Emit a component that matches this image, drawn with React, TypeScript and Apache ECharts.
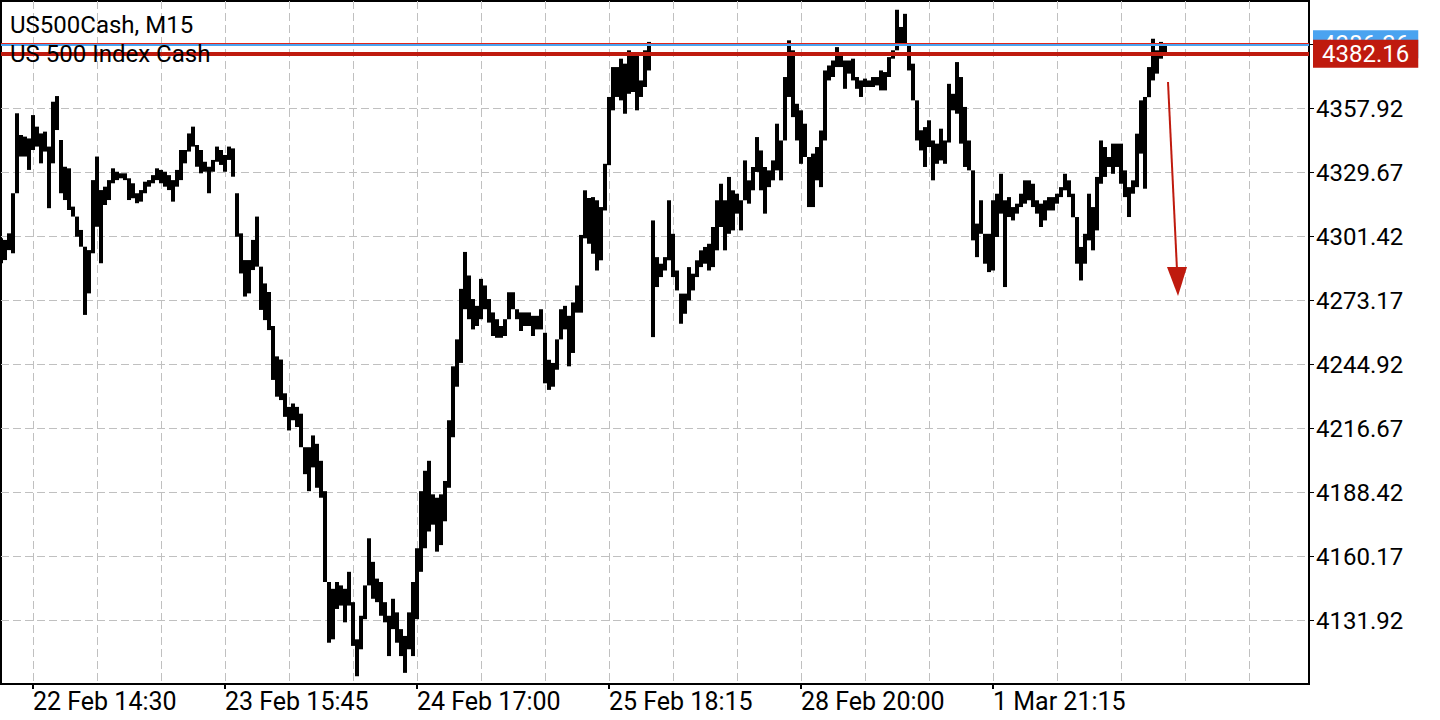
import { useEffect, useRef } from 'react';
import * as echarts from 'echarts';

// 30-minute columns (high / low), index 0 sits at the left edge
const highs = [
  4300.7, 4300.0, 4302.9, 4320.6, 4355.9, 4346.3, 4345.6, 4344.8, 4355.1, 4350.0,
  4347.0, 4347.8, 4341.2, 4361.0, 4363.5, 4344.1, 4332.3, 4331.6, 4314.7, 4310.3,
  4304.4, 4297.0, 4295.5, 4326.4, 4336.8, 4322.0, 4323.5, 4326.4, 4331.6, 4330.1,
  4329.4, 4329.4, 4327.2, 4325.0, 4320.6, 4322.0, 4325.7, 4326.4, 4328.6, 4331.6,
  4330.9, 4330.1, 4328.6, 4326.4, 4330.9, 4339.7, 4339.7, 4347.0, 4350.0, 4341.9,
  4339.7, 4334.5, 4332.3, 4335.3, 4341.2, 4339.7, 4337.5, 4341.2, 4340.4, 4320.6,
  4302.9, 4291.1, 4291.1, 4300.0, 4310.3, 4288.2, 4280.8, 4277.0, 4262.0, 4248.6,
  4247.2, 4232.3, 4226.3, 4227.8, 4226.3, 4223.3, 4208.5, 4208.5, 4213.7, 4210.0,
  4202.5, 4189.1, 4149.0, 4146.0, 4149.0, 4147.5, 4146.0, 4153.5, 4140.1, 4123.7,
  4134.1, 4147.5, 4168.3, 4157.9, 4150.5, 4149.0, 4140.1, 4134.1, 4141.6, 4135.6,
  4128.2, 4125.2, 4135.6, 4149.0, 4163.9, 4189.1, 4198.1, 4202.5, 4187.7, 4186.2,
  4187.7, 4193.6, 4220.4, 4244.2, 4256.1, 4278.4, 4294.7, 4284.3, 4273.9, 4270.9,
  4282.8, 4279.9, 4273.9, 4268.0, 4265.0, 4262.0, 4265.0, 4276.9, 4276.9, 4269.4,
  4268.0, 4268.0, 4268.0, 4266.5, 4266.5, 4269.4, 4259.0, 4247.1, 4245.7, 4256.1,
  4269.4, 4270.9, 4266.5, 4272.4, 4279.9, 4302.2, 4321.9, 4318.5, 4318.9, 4317.5,
  4314.5, 4333.6, 4363.1, 4376.3, 4376.3, 4380.0, 4377.8, 4383.7, 4382.2, 4382.2,
  4370.4, 4383.7, 4387.4, 4308.6, 4292.4, 4289.5, 4292.4, 4317.5, 4302.7, 4286.5,
  4276.3, 4276.3, 4288.0, 4285.1, 4291.0, 4295.4, 4296.9, 4298.3, 4305.7, 4317.5,
  4324.8, 4317.5, 4327.8, 4321.9, 4320.4, 4317.5, 4335.1, 4326.3, 4332.2, 4345.4,
  4339.5, 4332.2, 4330.7, 4335.1, 4351.3, 4343.9, 4371.9, 4388.1, 4383.7, 4360.1,
  4357.2, 4351.3, 4336.6, 4338.1, 4341.0, 4348.3, 4374.8, 4377.0, 4379.2, 4385.1,
  4382.2, 4379.2, 4379.2, 4380.0, 4371.9, 4370.4, 4371.2, 4370.4, 4371.9, 4371.9,
  4374.8, 4374.1, 4380.7, 4383.7, 4401.6, 4394.0, 4399.8, 4386.0, 4377.8, 4361.6,
  4348.4, 4349.8, 4352.8, 4343.9, 4342.5, 4349.1, 4343.9, 4368.9, 4364.5, 4378.5,
  4371.9, 4358.7, 4343.9, 4330.7, 4307.2, 4317.5, 4302.7, 4302.7, 4317.5, 4320.4,
  4329.2, 4317.5, 4318.9, 4314.5, 4316.0, 4320.4, 4326.3, 4326.3, 4324.8, 4317.5,
  4316.0, 4317.5, 4318.9, 4318.9, 4320.4, 4323.3, 4329.2, 4326.3, 4320.4, 4310.1,
  4296.9, 4302.7, 4320.4, 4314.5, 4327.8, 4343.9, 4341.0, 4336.6, 4342.5, 4342.5,
  4342.5, 4330.7, 4323.3, 4326.3, 4346.9, 4361.6, 4363.1, 4376.3, 4388.8, 4383.7,
  4387.4, 4386.6,
];

const lows = [
  4289.7, 4291.1, 4295.5, 4294.1, 4320.6, 4336.8, 4336.8, 4330.9, 4339.7, 4341.2,
  4333.8, 4339.0, 4314.0, 4333.8, 4348.5, 4320.6, 4317.6, 4313.2, 4310.3, 4301.4,
  4297.0, 4266.9, 4276.4, 4294.1, 4305.8, 4289.7, 4315.4, 4317.6, 4325.0, 4326.4,
  4327.2, 4326.4, 4317.6, 4318.4, 4316.2, 4316.9, 4320.6, 4323.5, 4325.0, 4326.4,
  4325.0, 4323.5, 4322.0, 4316.9, 4323.5, 4326.4, 4333.8, 4339.0, 4341.2, 4332.3,
  4329.4, 4330.1, 4320.6, 4330.1, 4334.5, 4333.1, 4330.1, 4335.3, 4327.9, 4301.4,
  4285.2, 4275.0, 4276.4, 4286.7, 4288.2, 4269.1, 4264.6, 4260.2, 4238.2, 4230.8,
  4229.3, 4221.9, 4215.9, 4220.4, 4217.4, 4208.5, 4196.6, 4189.1, 4199.6, 4190.6,
  4186.2, 4149.0, 4122.2, 4123.7, 4137.1, 4138.6, 4131.2, 4138.6, 4120.8, 4107.4,
  4119.3, 4132.6, 4147.5, 4141.6, 4140.1, 4134.1, 4131.2, 4116.3, 4128.2, 4122.2,
  4116.3, 4108.9, 4119.3, 4116.3, 4132.6, 4153.5, 4163.9, 4171.3, 4174.3, 4162.4,
  4165.3, 4175.8, 4190.6, 4212.9, 4235.2, 4245.7, 4269.4, 4265.0, 4260.5, 4262.0,
  4265.0, 4269.4, 4263.5, 4257.6, 4256.8, 4256.8, 4257.6, 4265.0, 4269.4, 4265.0,
  4259.8, 4262.0, 4262.0, 4257.6, 4260.5, 4260.5, 4236.7, 4233.8, 4235.2, 4242.7,
  4256.1, 4260.5, 4244.2, 4250.1, 4267.9, 4267.9, 4300.7, 4298.3, 4293.9, 4286.5,
  4291.0, 4313.0, 4333.0, 4357.2, 4363.1, 4361.6, 4355.7, 4364.5, 4365.3, 4357.2,
  4363.1, 4367.5, 4374.8, 4257.1, 4279.2, 4283.6, 4286.5, 4291.0, 4283.6, 4277.7,
  4263.0, 4267.4, 4273.3, 4277.7, 4283.6, 4288.0, 4289.5, 4286.5, 4288.0, 4295.4,
  4305.7, 4295.4, 4302.7, 4304.2, 4311.6, 4304.2, 4317.5, 4316.0, 4321.9, 4330.0,
  4321.9, 4311.6, 4323.3, 4326.3, 4330.7, 4326.3, 4343.9, 4363.1, 4354.2, 4343.9,
  4333.6, 4336.6, 4314.5, 4314.5, 4326.3, 4323.3, 4343.9, 4370.4, 4371.9, 4376.3,
  4376.3, 4366.7, 4373.4, 4370.4, 4366.7, 4363.1, 4367.5, 4367.5, 4367.5, 4368.2,
  4366.0, 4366.0, 4371.9, 4380.0, 4383.7, 4386.0, 4385.9, 4374.8, 4361.6, 4343.9,
  4339.5, 4332.2, 4341.0, 4326.3, 4333.6, 4335.1, 4333.6, 4343.0, 4357.2, 4355.7,
  4342.5, 4332.2, 4330.7, 4299.8, 4292.4, 4302.7, 4289.5, 4285.8, 4286.5, 4301.3,
  4311.6, 4279.2, 4310.1, 4308.6, 4311.6, 4314.5, 4316.0, 4317.5, 4314.5, 4311.6,
  4305.7, 4308.6, 4313.0, 4313.0, 4316.0, 4318.9, 4321.9, 4318.9, 4310.0, 4289.5,
  4282.1, 4289.5, 4299.8, 4295.4, 4304.2, 4324.8, 4327.8, 4332.2, 4329.2, 4332.2,
  4324.8, 4318.9, 4310.1, 4320.4, 4323.3, 4338.1, 4322.6, 4363.0, 4370.4, 4373.4,
  4380.0, 4382.2,
];

const slotCount = 328;
const categories = Array.from({ length: slotCount }, (_, i) => String(i));
const tickIndexes = [8, 56, 104, 152, 200, 248];
const tickLabels = ['22 Feb 14:30', '23 Feb 15:45', '24 Feb 17:00', '25 Feb 18:15', '28 Feb 20:00', '1 Mar 21:15'];
const gridStep = 16;

const priceLabels = [4131.92, 4160.17, 4188.42, 4216.67, 4244.92, 4273.17, 4301.42, 4329.67, 4357.92];
const priceGrid = [...priceLabels, 4386.17];
const yMin = 4103.98;
const yMax = 4405.46;

const bidPrice = 4382.16;
const askPrice = 4386.36;
const upperPrice = 4387.0;

const titleLines = ['US500Cash, M15', 'US 500 Index Cash'];

const RED = '#bf1a0e';
const BLUE = '#4aa3f0';
const FONT = 'Roboto, "Noto Sans", sans-serif';

export default function App() {
  const chartRef = useRef<HTMLDivElement>(null);

  useEffect(() => {
    if (!chartRef.current) return;
    const chart = echarts.init(chartRef.current, null, { renderer: 'svg' });

    const option: echarts.EChartsOption = {
      animation: false,
      backgroundColor: '#fff',
      textStyle: { fontFamily: FONT },
      grid: {
        left: 1,
        top: 1,
        right: 131,
        bottom: 36,
        show: true,
        borderColor: '#000',
        borderWidth: 2,
        backgroundColor: 'transparent',
      },
      xAxis: {
        type: 'category',
        data: categories,
        boundaryGap: false,
        axisLine: { show: false },
        axisTick: {
          show: true,
          interval: (index: number) => tickIndexes.includes(index),
          length: 5,
          lineStyle: { color: '#000', width: 2 },
        },
        axisLabel: {
          interval: (index: number) => tickIndexes.includes(index),
          formatter: (value: string) => {
            const k = tickIndexes.indexOf(Number(value));
            return k >= 0 ? tickLabels[k] : '';
          },
          align: 'left',
          margin: 5,
          color: '#000',
          fontSize: 25,
          fontFamily: FONT,
        },
        splitLine: {
          show: true,
          interval: (index: number) => index >= tickIndexes[0] && (index - tickIndexes[0]) % gridStep === 0,
          lineStyle: { color: '#c0c0c0', width: 1, type: [8, 4] },
        },
      },
      yAxis: {
        type: 'value',
        position: 'right',
        min: yMin,
        max: yMax,
        scale: true,
        axisLine: { show: false },
        axisTick: {
          show: true,
          customValues: priceGrid,
          length: 5,
          lineStyle: { color: '#000', width: 1 },
        },
        axisLabel: {
          customValues: priceLabels,
          formatter: (v: number) => v.toFixed(2),
          margin: 7,
          color: '#000',
          fontSize: 24,
          fontFamily: FONT,
        },
        splitLine: {
          show: true,
          lineStyle: { color: '#c0c0c0', width: 1, type: [8, 4] },
        },
      },
      series: [
        {
          type: 'custom',
          name: 'US500Cash',
          clip: true,
          data: highs.map((h, i) => [i, lows[i], h]),
          encode: { x: 0, y: [1, 2] },
          renderItem: (_params: unknown, api: any) => {
            const idx = api.value(0);
            const top = api.coord([idx, api.value(2)]);
            const bottom = api.coord([idx, api.value(1)]);
            return {
              type: 'rect',
              shape: {
                x: top[0] - 2,
                y: top[1],
                width: 4,
                height: Math.max(bottom[1] - top[1], 1.5),
              },
              style: { fill: '#000' },
            };
          },
          z: 3,
        },
        {
          type: 'line',
          data: [],
          silent: true,
          symbol: 'none',
          z: 4,
          markLine: {
            silent: true,
            symbol: ['none', 'none'],
            animation: false,
            data: [
              {
                yAxis: upperPrice,
                lineStyle: { color: '#e3261a', width: 1, type: 'solid' },
                label: { show: false },
              },
              {
                yAxis: askPrice,
                lineStyle: { color: BLUE, width: 2, type: 'solid' },
                label: {
                  show: true,
                  position: 'end',
                  distance: 4,
                  formatter: askPrice.toFixed(2),
                  color: '#fff',
                  fontSize: 24,
                  fontFamily: FONT,
                  lineHeight: 24,
                  padding: [2, 9, 2, 9],
                  backgroundColor: BLUE,
                },
              },
              {
                yAxis: bidPrice,
                lineStyle: { color: RED, width: 4, type: 'solid' },
                label: {
                  show: true,
                  position: 'end',
                  distance: 4,
                  formatter: bidPrice.toFixed(2),
                  color: '#fff',
                  fontSize: 24,
                  fontFamily: FONT,
                  lineHeight: 24,
                  padding: [2, 9, 2, 9],
                  backgroundColor: RED,
                },
              },
            ],
          },
        },
      ],
      graphic: [
        {
          type: 'text',
          left: 10,
          top: 13,
          z: 10,
          style: { text: titleLines[0], font: `24px ${FONT}`, fill: '#000' },
        },
        {
          type: 'text',
          left: 10,
          top: 42,
          z: 10,
          style: { text: titleLines[1], font: `24px ${FONT}`, fill: '#000' },
        },
        // hand-drawn down arrow
        {
          type: 'polyline',
          z: 10,
          shape: { points: [[1168, 82], [1177, 270]] },
          style: { stroke: RED, lineWidth: 2, fill: 'none' },
        },
        {
          type: 'polygon',
          z: 10,
          shape: { points: [[1167, 267], [1187, 267], [1178, 296]] },
          style: { fill: RED },
        },
      ],
    };

    chart.setOption(option);

    return () => {
      chart.dispose();
    };
  }, []);

  return (
    <div
      style={{
        position: 'fixed',
        left: 0,
        top: 0,
        width: 1440,
        height: 720,
        background: '#fff',
      }}
    >
      <div ref={chartRef} style={{ width: 1440, height: 720 }} />
    </div>
  );
}
